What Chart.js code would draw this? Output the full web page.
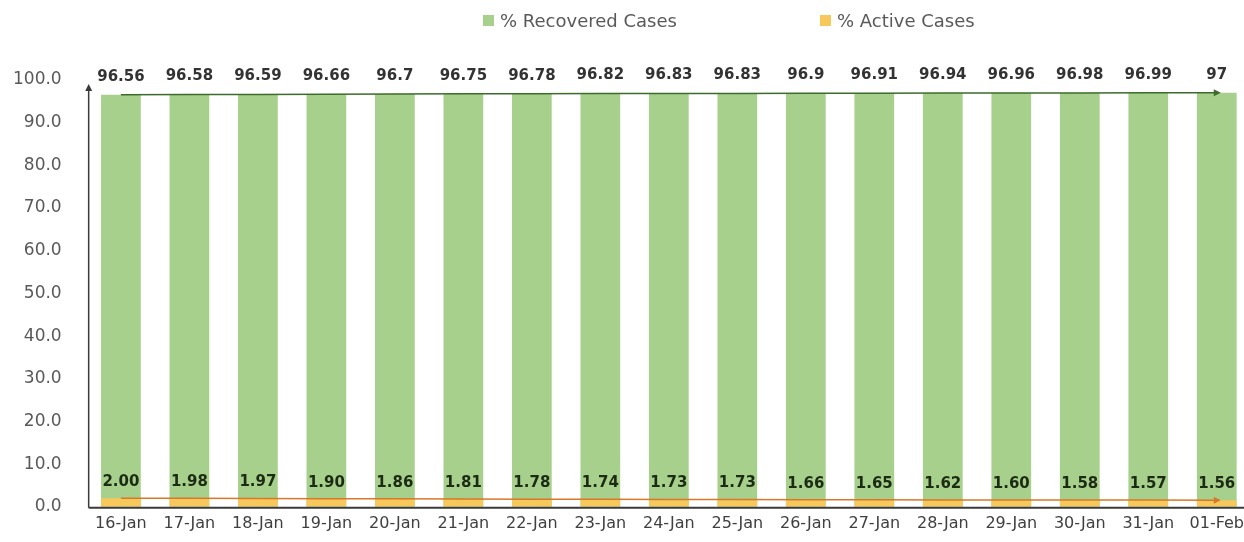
<!DOCTYPE html>
<html>
<head>
<meta charset="utf-8">
<script src="https://cdn.jsdelivr.net/npm/chart.js@4"></script>
<style>
  html, body { margin: 0; padding: 0; background: #fff; overflow: hidden; }
  #wrap { position: relative; width: 1260px; height: 542px; }
  #legend { position: absolute; top: 10px; left: 0; width: 1244px; height: 26px;
            font-family: "DejaVu Sans", sans-serif; font-size: 18px; color: #595959; }
  .item { position: absolute; top: 0; white-space: nowrap; }
  .box { display: inline-block; width: 11px; height: 11px; margin-right: 6px; vertical-align: 1px; }
</style>
</head>
<body>
<div id="wrap">
  <canvas id="chart"></canvas>
  <div id="legend"></div>
</div>
<script>
var categories = ['16-Jan', '17-Jan', '18-Jan', '19-Jan', '20-Jan', '21-Jan', '22-Jan', '23-Jan', '24-Jan',
                  '25-Jan', '26-Jan', '27-Jan', '28-Jan', '29-Jan', '30-Jan', '31-Jan', '01-Feb'];
var recovered = [96.56, 96.58, 96.59, 96.66, 96.7, 96.75, 96.78, 96.82, 96.83,
                 96.83, 96.9, 96.91, 96.94, 96.96, 96.98, 96.99, 97];
var active = [2.00, 1.98, 1.97, 1.90, 1.86, 1.81, 1.78, 1.74, 1.73,
              1.73, 1.66, 1.65, 1.62, 1.60, 1.58, 1.57, 1.56];
var seriesNames = ['% Recovered Cases', '% Active Cases'];

var green = '#a6d08c';
var yellow = '#f7c85c';

// legend in html so the spacing matches the picture
var legendPos = [483, 820];
var legendColors = [green, yellow];
seriesNames.forEach(function (name, i) {
    var el = document.createElement('div');
    el.className = 'item';
    el.style.left = legendPos[i] + 'px';
    el.innerHTML = '<span class="box" style="background:' + legendColors[i] + '"></span>' + name;
    document.getElementById('legend').appendChild(el);
});

function arrow(ctx, x, y, dx, dy, color) {
    // small filled arrow head pointing along (dx, dy)
    var len = Math.sqrt(dx * dx + dy * dy);
    dx /= len; dy /= len;
    ctx.fillStyle = color;
    ctx.beginPath();
    ctx.moveTo(x, y);
    ctx.lineTo(x - dx * 7 - dy * 3.5, y - dy * 7 + dx * 3.5);
    ctx.lineTo(x - dx * 7 + dy * 3.5, y - dy * 7 - dx * 3.5);
    ctx.closePath();
    ctx.fill();
}

var decorations = {
    id: 'decorations',
    afterDatasetsDraw: function (chart) {
        var ctx = chart.ctx;
        var area = chart.chartArea;
        var xs = chart.scales.x;
        var ys = chart.scales.y;
        ctx.save();

        // arrow heads at the end of the trend lines
        var last = categories.length - 1;
        arrow(ctx, xs.getPixelForValue(last) + 4, ys.getPixelForValue(recovered[last]), 1, 0, '#3d6b2b');
        arrow(ctx, xs.getPixelForValue(last) + 4, ys.getPixelForValue(active[last]), 1, 0, '#d9782a');

        // axes
        ctx.strokeStyle = '#3a3a3a';
        ctx.lineWidth = 2;
        ctx.beginPath();
        ctx.moveTo(area.left + 2, area.bottom + 1);
        ctx.lineTo(area.right, area.bottom + 1);
        ctx.stroke();
        ctx.lineWidth = 1.5;
        ctx.beginPath();
        ctx.moveTo(area.left + 2, area.bottom + 1);
        ctx.lineTo(area.left + 2, area.top + 8);
        ctx.stroke();
        arrow(ctx, area.left + 2, area.top + 4, 0, -1, '#3a3a3a');

        // value labels
        ctx.font = 'bold 15px "DejaVu Sans", sans-serif';
        ctx.textAlign = 'center';
        ctx.textBaseline = 'middle';
        categories.forEach(function (c, i) {
            var x = xs.getPixelForValue(i);
            ctx.fillStyle = '#333333';
            ctx.fillText(String(recovered[i]), x, ys.getPixelForValue(recovered[i]) - 18);
            ctx.fillStyle = '#1d2b14';
            ctx.fillText(active[i].toFixed(2), x, ys.getPixelForValue(active[i]) - 16);
        });
        ctx.restore();
    }
};

new Chart(document.getElementById('chart').getContext('2d'), {
    type: 'bar',
    data: {
        labels: categories,
        datasets: [
            {
                type: 'line',
                data: recovered,
                borderColor: '#3d6b2b',
                borderWidth: 1.5,
                pointRadius: 0,
                order: 0
            },
            {
                type: 'line',
                data: active,
                borderColor: '#d9782a',
                borderWidth: 1.5,
                pointRadius: 0,
                order: 0
            },
            {
                label: seriesNames[1],
                data: active,
                backgroundColor: yellow,
                barPercentage: 0.58,
                categoryPercentage: 1,
                order: 1
            },
            {
                label: seriesNames[0],
                data: recovered,
                backgroundColor: green,
                barPercentage: 0.58,
                categoryPercentage: 1,
                order: 2
            }
        ]
    },
    options: {
        responsive: true,
        maintainAspectRatio: false,
        animation: false,
        layout: {
            padding: { top: 80, left: -12, right: 9, bottom: 1 }
        },
        plugins: {
            legend: { display: false },
            tooltip: { enabled: false }
        },
        scales: {
            x: {
                stacked: true,
                grid: { display: false, drawTicks: false },
                border: { display: false },
                ticks: {
                    color: '#404040',
                    padding: 7,
                    maxRotation: 0,
                    autoSkip: false,
                    font: { family: '"DejaVu Sans", sans-serif', size: 16 }
                }
            },
            y: {
                stacked: false,
                min: 0,
                max: 100,
                grid: { display: false, drawTicks: false },
                border: { display: false },
                ticks: {
                    stepSize: 10,
                    color: '#595959',
                    padding: 25,
                    font: { family: '"DejaVu Sans", sans-serif', size: 17 },
                    callback: function (v) { return v.toFixed(1); }
                }
            }
        }
    },
    plugins: [decorations]
});
</script>
</body>
</html>
